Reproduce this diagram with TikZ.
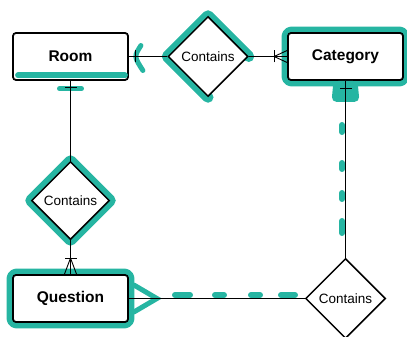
\documentclass[tikz,border=0pt]{standalone}
\usepackage{fontspec}
\setmainfont{Liberation Sans}
\usetikzlibrary{calc,shapes.geometric,backgrounds}
\definecolor{marker}{HTML}{26B5A2}
\tikzset{x=1pt, y=-1pt,
  entity box/.style={draw=black, fill=white, line width=1.8pt, rounded corners=3pt,
        minimum width=115pt, minimum height=47pt,
        font=\fontsize{15.5}{18}\selectfont\bfseries},
  relation/.style={diamond, draw=black, fill=white, line width=1.5pt,
        minimum width=80pt, minimum height=80pt, inner sep=0pt,
        font=\fontsize{13.5}{16}\selectfont},
  link line/.style={draw=black, line width=0.9pt},
  marker halo/.style={draw=marker, line width=11pt, line join=round, line cap=round},
  marker stroke/.style={draw=marker, line width=6pt, line cap=round}
}
\def\OneEnd#1#2#3#4{%
 \draw[link line] ($(#1)+#2*(#3)+6*(#4)$) -- ($(#1)+#2*(#3)-6*(#4)$);
}
\def\ManyEnd#1#2#3#4{%
 \OneEnd{#1}{#2}{#3}{#4}
 \draw[link line] ($(#1)+6*(#4)$) -- ($(#1)+#2*(#3)$) -- ($(#1)-6*(#4)$);
}
\begin{document}
\begin{tikzpicture}
\useasboundingbox (0,0) rectangle (407,337);
\clip (0,0) rectangle (407,337);
\node[entity box] (room) at (70.5,56.5) {Room};
\node[entity box] (category) at (345.5,56.5) {Category};
\node[entity box] (question) at (70.5,298.5) {Question};
\node[relation] (roomcat) at (208,56.5) {Contains};
\node[relation, minimum width=78pt, minimum height=78pt] (roomques) at (70.5,200.5) {Contains};
\node[relation] (quescat) at (345.5,298.5) {Contains};

\begin{scope}[on background layer]
  \draw[marker halo, rounded corners=4pt] (category.north west) rectangle (category.south east);
  \draw[marker halo, rounded corners=4pt] (question.north west) rectangle (question.south east);
  \draw[marker halo] (roomques.north) -- (roomques.east) -- (roomques.south) -- (roomques.west) -- cycle;
  \draw[marker halo] (roomcat.east) -- (roomcat.north) -- (roomcat.west) -- (roomcat.south);
\end{scope}

\draw[marker stroke] ($(room.south west)+(6,-5.5)$) -- ($(room.south east)+(-4,-5.5)$);
\draw[marker stroke, line width=5pt] ($(room.south)+(-11,8)$) -- +(22,0);
\draw[marker stroke, line width=5pt] ($(room.east)+(12,-11)$) .. controls ($(room.east)+(5,0)$) .. ($(room.east)+(14,14)$);
\fill[marker, rounded corners=5pt] ($(category.south)+(-12,0)$) -- ($(category.south)+(12,0)$)
   -- ($(category.south)+(14,21)$) -- ($(category.south)+(-14,21)$) -- cycle;
\draw[marker stroke, line width=5pt] ($(question.east)+(5,-13.5)$) -- ($(question.east)+(28,0)$) -- ($(question.east)+(5,13.5)$);
\foreach \a/\b in {125/132, 163/169, 193/199, 221/233}
  \draw[marker stroke] (342,\a) -- (342,\b);
\foreach \a/\b in {175/190, 215/224, 251/260, 281/295}
  \draw[marker stroke] (\a,295) -- (\b,295);

\draw[link line] (room) -- (roomcat);
\draw[link line] (roomcat) -- (category);
\draw[link line] (room) -- (roomques);
\draw[link line] (roomques) -- (question);
\draw[link line] (question) -- (quescat);
\draw[link line] (category) -- (quescat);

\OneEnd{room.east}{7}{1,0}{0,1}
\OneEnd{room.south}{7}{0,1}{1,0}
\OneEnd{category.south}{8}{0,1}{1,0}
\ManyEnd{category.west}{13}{-1,0}{0,1}
\ManyEnd{question.north}{16}{0,-1}{1,0}
\end{tikzpicture}
\end{document}
